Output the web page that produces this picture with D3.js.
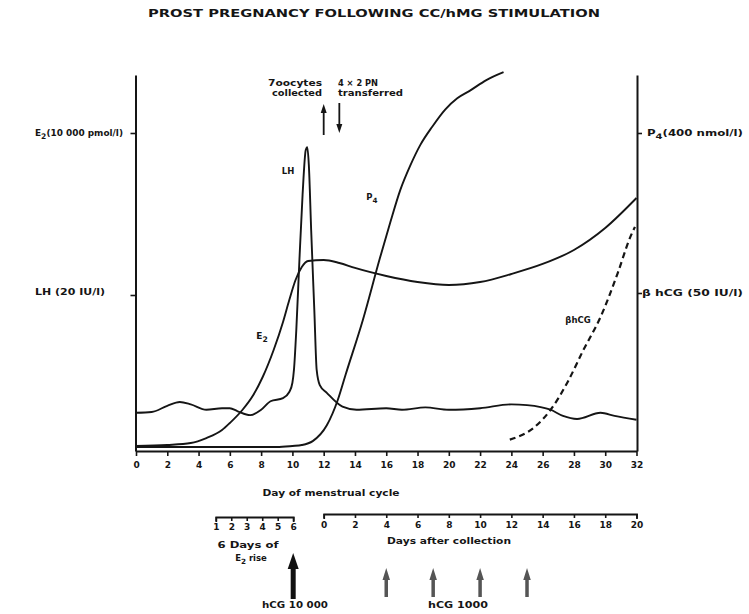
<!DOCTYPE html>
<html><head><meta charset="utf-8">
<script src="https://cdn.jsdelivr.net/npm/d3@7"></script>
<style>
body{margin:0;background:#fff}
svg text{font-family:"DejaVu Sans",sans-serif;font-weight:bold;fill:#151515}
</style></head><body>
<svg id="chart" width="749" height="614"></svg>
<script>
// ---------- data ----------
const title = "PROST PREGNANCY FOLLOWING CC/hMG STIMULATION";
const cycleTicks = [0,2,4,6,8,10,12,14,16,18,20,22,24,26,28,30,32];
const riseTicks = [1,2,3,4,5,6];
const afterTicks = [0,2,4,6,8,10,12,14,16,18,20];

// LH (IU/l) vs cycle day
const lhDays   = [0,1,2,2.8,3.5,4.5,5.5,6,6.5,7.3,8,8.6,9.4,9.8,10,10.1,10.25,10.45,10.65,10.85,10.95,11.05,11.2,11.4,11.55,11.75,12.2,13.2,14.1,16,17,18.5,20,22,24,25,26.5,27.3,28.2,29.7,30.6,32];
const lhValues = [4.7,4.8,5.6,6.1,5.8,5.1,5.3,5.3,4.9,4.4,5.1,6.2,6.6,7.4,8.6,10.3,15.5,24.6,33.0,38.8,39.2,36.9,28.4,18.1,10.3,8.3,7.3,5.5,5.1,5.3,5.1,5.4,5.1,5.3,5.8,5.7,5.1,4.3,3.9,4.7,4.3,3.8];

// E2 (pmol/l) vs cycle day
const e2Days   = [0,2,3.5,4.5,5.5,6,6.8,7.5,8.1,8.8,9.4,9.8,10.2,10.6,11,12,13,14,16,18,20,22,24,26,28,30,32];
const e2Values = [95,127,190,348,601,823,1234,1709,2279,3134,4020,4716,5349,5760,5950,5982,5887,5729,5475,5285,5190,5285,5539,5855,6298,6995,7944];

// P4 (nmol/l) vs cycle day
const p4Days   = [0,6,9,10,10.6,11.3,12.2,12.9,13.4,14.5,15.6,16.26,16.9,17.54,18.18,18.94,19.78,20.54,21.38,22.4,23.5];
const p4Values = [2.5,2.5,2.5,3.8,5,10,30,62,94,163,242,287,328,359,385,408,430,444,454,467,477];

// beta hCG (IU/l) vs cycle day
const hcgDays   = [23.9,25.4,26.5,27.6,28.6,29.7,30.8,31.6,31.9];
const hcgValues = [3.0,6.7,12.5,21.5,31.7,42.3,56.4,67.9,71.2];

const collectionDay = 12, transferDay = 13;
const hcg10000RiseDay = 6;          // on the "6 days of E2 rise" scale
const hcg1000AfterDays = [4,7,10,13]; // on the "days after collection" scale

// ---------- scales ----------
const svg = d3.select("#chart");
const x = d3.scaleLinear().domain([0,32]).range([136,636.5]);
const y0 = 449;
const yE2  = d3.scaleLinear().domain([0,10000]).range([y0,133]);
const yLH  = d3.scaleLinear().domain([0,20]).range([y0,295]);
const yP4  = d3.scaleLinear().domain([0,400]).range([y0,133]);
const yHCG = d3.scaleLinear().domain([0,50]).range([y0,293]);
const yFrame = yE2.copy().domain([0, yE2.invert(75)]);
const xRise  = d3.scaleLinear().domain([1,6]).range([x(5.1), x(10.05)]);
const xAfter = d3.scaleLinear().domain([0,20]).range([x(12), x(32)]);

const ink = "#151515";

// title
svg.append("text").attr("x",374).attr("y",17).attr("text-anchor","middle")
  .attr("font-size",10).attr("textLength",452).attr("lengthAdjust","spacingAndGlyphs").text(title);

// ---------- axes ----------
function styleAxis(g, w){
  g.selectAll("path.domain").attr("stroke",ink).attr("stroke-width",w);
  g.selectAll(".tick line").attr("stroke",ink).attr("stroke-width",1.6);
  g.selectAll(".tick text").attr("font-size",9).attr("font-family","DejaVu Sans").attr("font-weight","bold").attr("fill",ink);
}
// main x axis
const gx = svg.append("g").attr("transform","translate(0,451)")
  .call(d3.axisBottom(x).tickValues(cycleTicks).tickSize(5).tickSizeOuter(0).tickPadding(6));
styleAxis(gx,2);
svg.append("text").attr("x",331).attr("y",496).attr("text-anchor","middle").attr("font-size",9)
  .attr("textLength",137).attr("lengthAdjust","spacingAndGlyphs").text("Day of menstrual cycle");

// left frame + ticks
const gl = svg.append("g").attr("transform","translate(135.5,0)")
  .call(d3.axisLeft(yFrame.copy().range([451,75])).tickValues([]).tickSizeOuter(0));
styleAxis(gl,2);
svg.append("g").attr("transform","translate(135.5,0)")
  .call(d3.axisLeft(yE2).tickValues([10000]).tickFormat("").tickSizeOuter(0).tickSize(5))
  .call(g=>{g.select(".domain").remove(); styleAxis(g,2);});
svg.append("g").attr("transform","translate(135.5,0)")
  .call(d3.axisLeft(yLH).tickValues([20]).tickFormat("").tickSizeOuter(0).tickSize(5))
  .call(g=>{g.select(".domain").remove(); styleAxis(g,2);});

// right frame + ticks
const gr = svg.append("g").attr("transform","translate(637,0)")
  .call(d3.axisRight(yFrame.copy().range([451,75])).tickValues([]).tickSizeOuter(0));
styleAxis(gr,2);
svg.append("g").attr("transform","translate(637,0)")
  .call(d3.axisRight(yP4).tickValues([400]).tickFormat("").tickSize(5))
  .call(g=>{g.select(".domain").remove(); styleAxis(g,2);});
svg.append("g").attr("transform","translate(637,0)")
  .call(d3.axisRight(yHCG).tickValues([50]).tickFormat("").tickSize(5))
  .call(g=>{g.select(".domain").remove(); styleAxis(g,2);});

// axis labels with subscripts
function subLabel(xp, yp, parts, size, anchor, len){
  const t = svg.append("text").attr("x",xp).attr("y",yp).attr("font-size",size).attr("text-anchor",anchor||"start");
  if(len) t.attr("textLength",len).attr("lengthAdjust","spacingAndGlyphs");
  parts.forEach(p=>{
    const s = t.append("tspan").text(p.t);
    if(p.sub) s.attr("dy",3).attr("font-size",size*0.85);
    else if(p.after) s.attr("dy",-3);
  });
  return t;
}
subLabel(35, yE2(10000)+3, [{t:"E"},{t:"2",sub:true},{t:"(10 000 pmol/l)",after:true}], 9, "start", 88);
subLabel(35, yLH(20)-0.5, [{t:"LH (20 IU/l)"}], 8.5, "start", 70);
subLabel(647, yP4(400)+3, [{t:"P"},{t:"4",sub:true},{t:"(400 nmol/l)",after:true}], 9, "start", 96);
subLabel(642, yHCG(50)+3, [{t:"β hCG (50 IU/l)"}], 8.5, "start", 101);

// ---------- curves ----------
function drawCurve(days, vals, ys, dash){
  const pts = days.map((d,i)=>[d, vals[i]]);
  svg.append("path").datum(pts)
    .attr("fill","none").attr("stroke",ink).attr("stroke-width",dash?2.2:1.9)
    .attr("stroke-dasharray",dash?"6,4":null).attr("stroke-linejoin","round")
    .attr("d", d3.line().x(p=>x(p[0])).y(p=>ys(p[1])).curve(d3.curveMonotoneX));
}
drawCurve(e2Days, e2Values, yE2);
drawCurve(p4Days, p4Values, yP4);
drawCurve(lhDays, lhValues, yLH);
drawCurve(hcgDays, hcgValues, yHCG, true);

// curve labels
svg.append("text").attr("x",288).attr("y",174).attr("font-size",8.5).attr("text-anchor","middle").text("LH");
subLabel(262, 339, [{t:"E"},{t:"2",sub:true}], 9, "middle");
subLabel(372, 200, [{t:"P"},{t:"4",sub:true}], 8.5, "middle");
svg.append("text").attr("x",578).attr("y",323).attr("font-size",8.5).attr("text-anchor","middle").text("βhCG");

// top annotations
function arrow(cx, yFrom, yTo, shaftW, headW, headL, color){
  const dir = yTo < yFrom ? -1 : 1; // tip at yTo
  const hb = yTo - dir*headL;
  const p = `M${cx},${yTo} L${cx+headW/2},${hb} L${cx+shaftW/2},${hb} L${cx+shaftW/2},${yFrom} L${cx-shaftW/2},${yFrom} L${cx-shaftW/2},${hb} L${cx-headW/2},${hb} Z`;
  svg.append("path").attr("d",p).attr("fill",color);
}
arrow(x(collectionDay), 135, 104, 1.8, 6, 9, ink);
arrow(x(transferDay), 103, 133, 1.8, 6, 9, ink);
svg.append("text").attr("x",322).attr("y",86).attr("font-size",8).attr("text-anchor","end").attr("textLength",54).attr("lengthAdjust","spacingAndGlyphs").text("7oocytes");
svg.append("text").attr("x",322).attr("y",96).attr("font-size",8).attr("text-anchor","end").attr("textLength",50).attr("lengthAdjust","spacingAndGlyphs").text("collected");
svg.append("text").attr("x",338).attr("y",86).attr("font-size",8).attr("textLength",40).attr("lengthAdjust","spacingAndGlyphs").text("4 × 2 PN");
svg.append("text").attr("x",338).attr("y",96).attr("font-size",8).attr("textLength",65).attr("lengthAdjust","spacingAndGlyphs").text("transferred");

// ---------- lower scales ----------
const gRise = svg.append("g").attr("transform","translate(0,517)")
  .call(d3.axisBottom(xRise).tickValues(riseTicks).tickSize(4).tickSizeOuter(5).tickPadding(3).tickFormat(d3.format("d")));
styleAxis(gRise,1.8);
const gAfter = svg.append("g").attr("transform","translate(0,514)")
  .call(d3.axisBottom(xAfter).tickValues(afterTicks).tickSize(4).tickSizeOuter(5).tickPadding(4).tickFormat(d3.format("d")));
styleAxis(gAfter,1.8);

svg.append("text").attr("x",248).attr("y",548).attr("font-size",8.5).attr("text-anchor","middle").attr("textLength",61).attr("lengthAdjust","spacingAndGlyphs").text("6 Days of");
subLabel(251, 561, [{t:"E"},{t:"2",sub:true},{t:" rise",after:true}], 8.5, "middle");
svg.append("text").attr("x",449).attr("y",544).attr("font-size",8.5).attr("text-anchor","middle").attr("textLength",124).attr("lengthAdjust","spacingAndGlyphs").text("Days after collection");

// hCG arrows
arrow(xRise(hcg10000RiseDay), 599, 553, 5, 11, 16, "#111");
hcg1000AfterDays.forEach(d=> arrow(xAfter(d), 597, 568, 3.5, 7.5, 12, "#555"));
svg.append("text").attr("x",295).attr("y",608).attr("font-size",8.5).attr("text-anchor","middle").attr("textLength",66).attr("lengthAdjust","spacingAndGlyphs").text("hCG 10 000");
svg.append("text").attr("x",458).attr("y",608).attr("font-size",8.5).attr("text-anchor","middle").attr("textLength",60).attr("lengthAdjust","spacingAndGlyphs").text("hCG  1000");
</script>
</body></html>
